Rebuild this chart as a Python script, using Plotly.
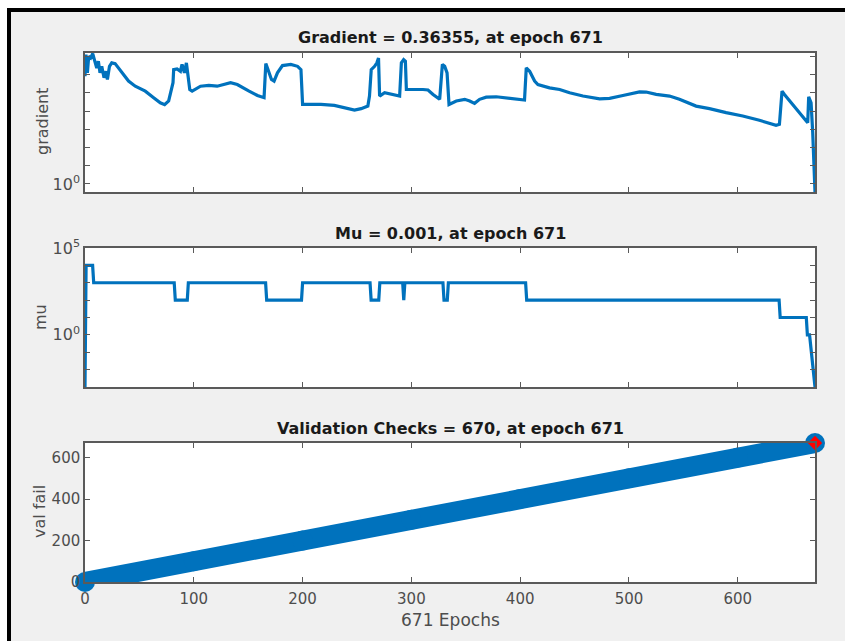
import math
import plotly.graph_objects as go

# ---------------- data ----------------
# Gradient panel: epoch and log10(gradient)
grad_epoch = [0, 0.9, 2.2, 3.4, 5.2, 7.1, 8.6, 10.8, 12.3, 13.8, 15.4, 17.5, 19.4, 20.6,
              22.5, 24.6, 27.7, 30.8, 35.4, 40, 46.2, 55.4, 63.1, 69.2, 73.2, 76.9, 80.9,
              81.5, 84.6, 87.7, 89.2, 91.4, 93.2, 94.5, 96.3, 98.5, 106.2, 113.8, 121.5,
              133.8, 140, 150.8, 158.5, 164.6, 166.2, 167.7, 169.2, 171.4, 173.8, 176.9,
              181.5, 189.2, 195.4, 198.5, 200, 216.9, 229.2, 238.5, 247.7, 253.8, 260,
              261.5, 263.1, 266.2, 268.3, 269.8, 270.8, 275.4, 281.5, 289.2, 290.8, 292.9,
              294.5, 295.4, 310.7, 315.3, 319.9, 326, 328.5, 330.6, 332.8, 334.6, 341.3,
              349, 353.6, 358.1, 362.7, 368.8, 378, 390.3, 404, 405.6, 408.7, 413.3, 416.3,
              427, 436.3, 445.4, 457.7, 473, 482.2, 494.4, 509.7, 515.8, 525, 537.3, 546.4,
              561.7, 574, 589.3, 604.6, 619.9, 635.2, 638.3, 640.7, 642.9, 650.5, 661.2,
              664.3, 665.2, 667.4, 668.9, 671]
grad_exp = [5.91, 7.09, 6.09, 7.0, 6.91, 7.15, 6.82, 6.36, 6.73, 6.09, 6.45, 5.82, 6.18, 5.73,
            6.45, 6.64, 6.6, 6.36, 6.0, 5.64, 5.36, 5.09, 4.73, 4.45, 4.35, 4.55, 5.55,
            6.27, 6.31, 6.18, 6.55, 6.09, 6.64, 6.09, 5.18, 5.09, 5.36, 5.4, 5.36,
            5.55, 5.45, 5.09, 4.85, 4.73, 6.6, 6.36, 6.09, 5.73, 5.64, 6.09,
            6.49, 6.55, 6.45, 6.27, 4.36, 4.36, 4.31, 4.18, 4.05, 4.13, 4.27,
            4.82, 6.27, 6.45, 6.64, 6.91, 4.82, 5.0, 4.91, 4.82, 6.64, 6.82,
            6.73, 5.18, 5.18, 5.15, 4.91, 4.64, 6.55, 6.45, 6.09, 4.36, 4.55,
            4.64, 4.55, 4.42, 4.64, 4.76, 4.78, 4.71, 4.6, 6.36, 6.18, 5.64, 5.45,
            5.27, 5.18, 5.0, 4.82, 4.67, 4.69, 4.85, 5.05, 5.04, 4.91, 4.82, 4.64,
            4.27, 4.13, 3.91, 3.73, 3.49, 3.22, 3.27, 5.09, 4.91, 4.36, 3.55,
            3.36, 4.78, 4.45, 2.82, math.log10(0.36355)]
grad_values = [10 ** e for e in grad_exp]

# Mu panel: epoch and log10(mu)
mu_epoch = [0, 1, 7, 8, 82, 83, 94, 95, 166, 167, 199, 200, 262, 263, 270, 271, 292, 293,
            294, 329, 330, 333, 334, 405, 406, 638, 639, 663, 664, 666, 671]
mu_exp = [-3, 4, 4, 3, 3, 2, 2, 3, 3, 2, 2, 3, 3, 2, 2, 3, 3, 2,
          3, 3, 2, 2, 3, 3, 2, 2, 1, 1, 0, 0, -3]
mu_values = [10 ** e for e in mu_exp]

# Validation checks panel
val_epoch = [0, 100, 200, 300, 400, 500, 600, 671]
val_fail = [0, 100, 200, 300, 400, 500, 600, 670]
best_epoch = [671]
best_val = [670]

x_ticks = [0, 100, 200, 300, 400, 500, 600]
val_ticks = [0, 200, 400, 600]
grad_label_exps = [0]
grad_minor_exps = [1, 2, 3, 4, 5, 6, 7]
mu_label_exps = [0, 5]
mu_minor_exps = [-3, -2, -1, 1, 2, 3, 4]
titles = ["Gradient = 0.36355, at epoch 671",
          "Mu = 0.001, at epoch 671",
          "Validation Checks = 670, at epoch 671"]
ylabels = ["gradient", "mu", "val fail"]
xlabel = "671 Epochs"

# ---------------- layout helpers ----------------
W, H = 845, 641
L, R, T, B = 85, 30, 53, 59
PW, PH = W - L - R, H - T - B


def px(x):
    return (x - L) / PW


def py(y):
    return (H - B - y) / PH


BLUE = "#0072BD"
AX = "#5a5a5a"
TICKC = "#4d4d4d"
FONT = "DejaVu Sans"

fig = go.Figure()
fig.add_trace(go.Scatter(x=grad_epoch, y=grad_values, mode="lines",
                         line=dict(color=BLUE, width=3.2), xaxis="x", yaxis="y"))
fig.add_trace(go.Scatter(x=mu_epoch, y=mu_values, mode="lines",
                         line=dict(color=BLUE, width=3.2), xaxis="x2", yaxis="y2"))
fig.add_trace(go.Scatter(x=val_epoch, y=val_fail, mode="lines+markers",
                         line=dict(color=BLUE, width=20),
                         marker=dict(color=BLUE, size=20, symbol="circle",
                                     line=dict(width=0)),
                         cliponaxis=False, xaxis="x3", yaxis="y3"))
fig.add_trace(go.Scatter(x=best_epoch, y=best_val, mode="markers",
                         marker=dict(color="#ff0000", size=11, symbol="diamond",
                                     line=dict(width=0)),
                         cliponaxis=False, xaxis="x3", yaxis="y3"))

common = dict(showline=True, linecolor=AX, linewidth=1.5, mirror="ticks",
              ticks="inside", ticklen=5, tickwidth=1, tickcolor=AX,
              showgrid=False, zeroline=False,
              tickfont=dict(family=FONT, size=15, color=TICKC))

xcommon = dict(common, range=[0, 671], tickvals=x_ticks, domain=[0, 1])
doms = [[py(192), 1.0], [py(387), py(248)], [0.0, py(443)]]

logfont = dict(family=FONT, size=16, color=TICKC)

fig.update_layout(
    width=W, height=H,
    margin=dict(l=L, r=R, t=T, b=B, pad=0),
    paper_bgcolor="#f0f0f0", plot_bgcolor="#ffffff",
    showlegend=False,
    xaxis=dict(xcommon, anchor="y", showticklabels=False),
    xaxis2=dict(xcommon, anchor="y2", showticklabels=False),
    xaxis3=dict(xcommon, anchor="y3", showticklabels=True, ticklabelstandoff=2),
    yaxis=dict(common, anchor="x", domain=doms[0], type="log",
               range=[math.log10(0.36355), 7.18],
               tickvals=[10 ** k for k in grad_label_exps],
               ticktext=["10<sup>%d</sup>" % k for k in grad_label_exps],
               minor=dict(tickvals=[10 ** k for k in grad_minor_exps], ticks="inside",
                          ticklen=5, tickcolor=AX, tickwidth=1, showgrid=False),
               tickfont=logfont),
    yaxis2=dict(common, anchor="x2", domain=doms[1], type="log",
                range=[-3, 5],
                tickvals=[10 ** k for k in mu_label_exps],
                ticktext=["10<sup>%d</sup>" % k for k in mu_label_exps],
                minor=dict(tickvals=[10 ** k for k in mu_minor_exps], ticks="inside",
                           ticklen=5, tickcolor=AX, tickwidth=1, showgrid=False),
                tickfont=logfont),
    yaxis3=dict(common, anchor="x3", domain=doms[2], range=[0, 670],
                tickvals=val_ticks),
)

# titles
for txt, yc in zip(titles, [38, 233, 428]):
    fig.add_annotation(text=txt, x=px(450), y=py(yc), xref="paper", yref="paper",
                       showarrow=False, xanchor="center", yanchor="middle",
                       font=dict(family=FONT, size=16, color="#1a1a1a", weight="bold"))
# y labels
for txt, xc, yc in zip(ylabels, [42, 40, 39], [122, 317, 512]):
    fig.add_annotation(text=txt, x=px(xc), y=py(yc), xref="paper", yref="paper",
                       showarrow=False, xanchor="center", yanchor="middle", textangle=-90,
                       font=dict(family=FONT, size=16, color=TICKC))
# x label
fig.add_annotation(text=xlabel, x=px(450), y=py(620), xref="paper", yref="paper",
                   showarrow=False, xanchor="center", yanchor="middle",
                   font=dict(family=FONT, size=17, color=TICKC))

# outer frame: white outside, black top/left edges
shapes = [
    dict(type="rect", xref="paper", yref="paper", x0=px(0), x1=px(W), y0=py(0), y1=py(8),
         fillcolor="#ffffff", line=dict(width=0)),
    dict(type="rect", xref="paper", yref="paper", x0=px(0), x1=px(7), y0=py(0), y1=py(H),
         fillcolor="#ffffff", line=dict(width=0)),
    dict(type="rect", xref="paper", yref="paper", x0=px(7), x1=px(W), y0=py(8), y1=py(12),
         fillcolor="#000000", line=dict(width=0)),
    dict(type="rect", xref="paper", yref="paper", x0=px(7), x1=px(11), y0=py(8), y1=py(H),
         fillcolor="#000000", line=dict(width=0)),
]
fig.update_layout(shapes=shapes)

fig.write_html("out.html")
